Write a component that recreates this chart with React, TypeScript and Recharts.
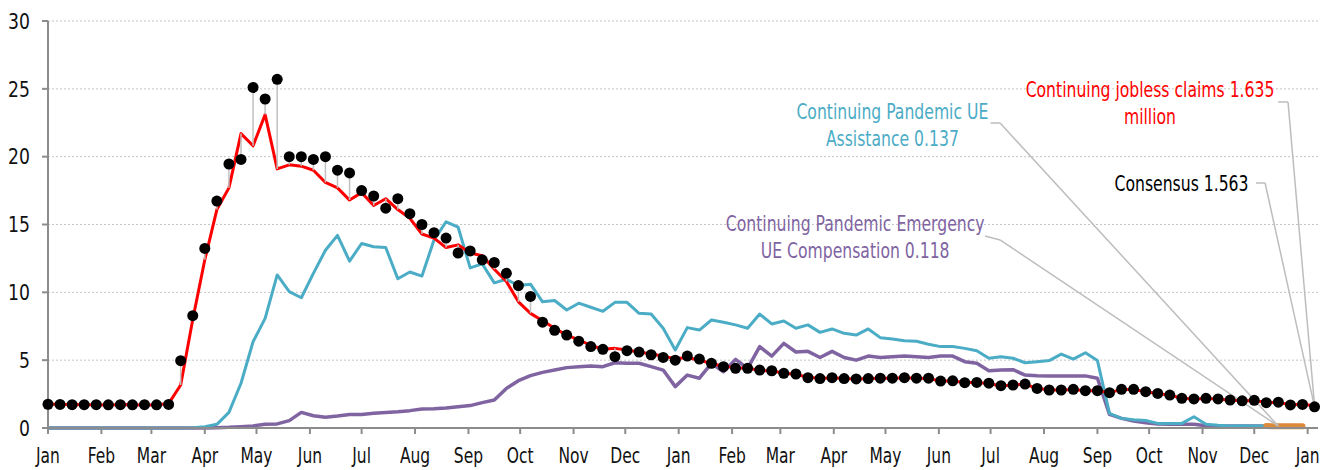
import React from "react";
import {
  ComposedChart,
  Line,
  CartesianGrid,
  XAxis,
  YAxis,
  ErrorBar,
  ReferenceLine,
  ReferenceDot,
} from "recharts";

// weekly values, millions; week 0 = first week of Jan 2020
const claims = [
  1.76, 1.74, 1.73, 1.72, 1.72, 1.7, 1.73, 1.72, 1.7, 1.7,
  1.8, 3.17, 8.0, 12.4, 16.1, 17.7, 21.7, 20.8, 23.1, 19.1,
  19.4, 19.3, 19.0, 18.1, 17.7, 16.8, 17.35, 16.4, 16.9, 16.1,
  15.45, 14.3, 14.0, 13.3, 13.5, 12.9, 12.7, 11.7, 10.8, 9.3,
  8.45, 7.9, 7.35, 6.85, 6.5, 6.1, 5.8, 5.87, 5.75, 5.6,
  5.45, 5.3, 5.1, 5.2, 5.0, 4.75, 4.55, 4.45, 4.4, 4.25,
  4.2, 4.05, 3.95, 3.75, 3.65, 3.7, 3.65, 3.62, 3.65, 3.66,
  3.67, 3.7, 3.67, 3.65, 3.47, 3.46, 3.35, 3.35, 3.28, 3.1,
  3.17, 3.22, 2.93, 2.8, 2.8, 2.83, 2.75, 2.74, 2.62, 2.83,
  2.84, 2.67, 2.55, 2.42, 2.2, 2.13, 2.18, 2.13, 2.05, 2.0,
  2.03, 1.88, 1.88, 1.72, 1.75, 1.635,
];

const consensus = [
  1.75, 1.74, 1.72, 1.72, 1.72, 1.71, 1.72, 1.71, 1.72, 1.71,
  1.74, 4.96, 8.28, 13.24, 16.73, 19.46, 19.8, 25.1, 24.25, 25.7,
  20.0, 20.0, 19.8, 20.0, 19.0, 18.8, 17.5, 17.1, 16.2, 16.9,
  15.8, 15.0, 14.4, 14.0, 12.9, 13.05, 12.4, 12.2, 11.4, 10.5,
  9.7, 7.8, 7.2, 6.85, 6.4, 6.0, 5.8, 5.26, 5.7, 5.6,
  5.4, 5.2, 5.0, 5.3, 5.08, 4.77, 4.52, 4.4, 4.4, 4.27,
  4.22, 4.03, 3.98, 3.71, 3.64, 3.71, 3.64, 3.62, 3.64, 3.67,
  3.67, 3.71, 3.67, 3.67, 3.46, 3.48, 3.34, 3.36, 3.3, 3.12,
  3.17, 3.24, 2.92, 2.8, 2.8, 2.85, 2.75, 2.75, 2.6, 2.85,
  2.85, 2.68, 2.55, 2.43, 2.19, 2.14, 2.19, 2.14, 2.06, 2.0,
  2.04, 1.87, 1.9, 1.7, 1.74, 1.563,
];

const pua = [
  0, 0, 0, 0, 0, 0, 0, 0, 0, 0,
  0, 0, 0.02, 0.1, 0.27, 1.15, 3.3, 6.36, 8.08, 11.28,
  10.05, 9.6, 11.4, 13.1, 14.2, 12.3, 13.6, 13.36, 13.3, 11.0,
  11.5, 11.2, 13.85, 15.2, 14.8, 11.8, 12.1, 10.7, 10.96, 10.5,
  10.6, 9.3, 9.4, 8.7, 9.2, 8.9, 8.6, 9.26, 9.26, 8.45,
  8.4, 7.35, 5.75, 7.4, 7.22, 7.96, 7.8, 7.6, 7.35, 8.4,
  7.67, 7.89, 7.35, 7.6, 7.05, 7.3, 6.98, 6.85, 7.3, 6.66,
  6.56, 6.43, 6.4, 6.17, 6.0, 6.0, 5.87, 5.7, 5.14, 5.26,
  5.14, 4.81, 4.89, 4.97, 5.45, 5.08, 5.55, 4.97, 1.08, 0.71,
  0.6, 0.55, 0.34, 0.34, 0.34, 0.83, 0.27, 0.2, 0.15, 0.17,
  0.15, 0.14,
];

const peuc = [
  0, 0, 0, 0, 0, 0, 0, 0, 0, 0,
  0, 0, 0, 0, 0.02, 0.05, 0.1, 0.15, 0.28, 0.3,
  0.54, 1.15, 0.9, 0.79, 0.88, 1.0, 1.0, 1.08, 1.15, 1.2,
  1.28, 1.4, 1.42, 1.47, 1.57, 1.65, 1.87, 2.06, 2.92, 3.49,
  3.86, 4.1, 4.27, 4.45, 4.52, 4.57, 4.52, 4.81, 4.77, 4.77,
  4.52, 4.27, 3.05, 3.9, 3.67, 4.77, 4.15, 5.06, 4.4, 6.0,
  5.3, 6.24, 5.6, 5.65, 5.2, 5.65, 5.2, 5.0, 5.3, 5.2,
  5.25, 5.3, 5.25, 5.2, 5.3, 5.3, 4.89, 4.77, 4.22, 4.27,
  4.3, 3.9, 3.86, 3.84, 3.84, 3.84, 3.84, 3.67, 1.0, 0.71,
  0.52, 0.39, 0.29, 0.27, 0.27, 0.27, 0.17, 0.15, 0.15, 0.15,
  0.15, 0.14,
];

// latest weeks shown in orange
const latestStart = 101;
const latest = [0.14, 0.13, 0.13, 0.12];

// days since Jan 1 2020 for each month start
const monthTicks = [
  0, 31, 60, 91, 121, 152, 182, 213, 244, 274, 305, 335,
  366, 397, 425, 456, 486, 517, 547, 578, 609, 639, 670, 700, 731,
];
const monthLabels = [
  "Jan", "Feb", "Mar", "Apr", "May", "Jun", "Jul", "Aug", "Sep", "Oct", "Nov", "Dec",
  "Jan", "Feb", "Mar", "Apr", "May", "Jun", "Jul", "Aug", "Sep", "Oct", "Nov", "Dec", "Jan",
];
const yTicks = [0, 5, 10, 15, 20, 25, 30];

// callouts: text centre, leader path (days, millions)
const callouts = [
  {
    lines: ["Continuing Pandemic UE", "Assistance 0.137"],
    color: "#4bacc6",
    at: { x: 490, y: 22.4 },
    leader: [{ x: 547, y: 22.48 }, { x: 552.5, y: 22.48 }, { x: 714, y: 0.14 }],
  },
  {
    lines: ["Continuing Pandemic Emergency", "UE Compensation 0.118"],
    color: "#8064a2",
    at: { x: 468.4, y: 14.08 },
    leader: [{ x: 543.8, y: 14.15 }, { x: 552.5, y: 13.86 }, { x: 714, y: 0.14 }],
  },
  {
    lines: ["Continuing jobless claims 1.635", "million"],
    color: "#ff0000",
    at: { x: 639.5, y: 24.0 },
    leader: [{ x: 713.8, y: 24.03 }, { x: 719.6, y: 24.03 }, { x: 735, y: 1.635 }],
  },
  {
    lines: ["Consensus 1.563"],
    color: "#000000",
    at: { x: 657.8, y: 18.06 },
    leader: [{ x: 701, y: 18.06 }, { x: 706.3, y: 18.06 }, { x: 735, y: 1.563 }],
  },
];

const FONT = "'DejaVu Sans Condensed', 'DejaVu Sans', sans-serif";

const data = claims.map((c, i) => {
  const k = consensus[i];
  const lo = Math.min(c, k);
  const hi = Math.max(c, k);
  return {
    day: i * 7,
    claims: c,
    consensus: k,
    gap: [k - lo, hi - k],
    pua: i < pua.length ? pua[i] : null,
    peuc: i < peuc.length ? peuc[i] : null,
    latest: i >= latestStart && i < latestStart + latest.length ? latest[i - latestStart] : null,
  };
});

// condensed look: squeeze the text horizontally
function NarrowText({ x, y, anchor, size, sx, color, children }) {
  return (
    <text
      transform={`translate(${x},${y}) scale(${sx},1)`}
      x={0}
      y={0}
      textAnchor={anchor}
      fontSize={size}
      fontFamily={FONT}
      fill={color}
    >
      {children}
    </text>
  );
}

function XTick({ x, y, index }) {
  return (
    <NarrowText x={x} y={y + 15} anchor="middle" size={20.5} sx={0.84} color="#111">
      {monthLabels[index]}
    </NarrowText>
  );
}

function YTick({ x, y, payload }) {
  return (
    <NarrowText x={x} y={y + 7.8} anchor="end" size={21.5} sx={0.89} color="#111">
      {payload.value}
    </NarrowText>
  );
}

function CalloutText({ viewBox, lines, color }) {
  const cx = viewBox.x + viewBox.width / 2;
  const cy = viewBox.y + viewBox.height / 2;
  return (
    <g>
      {lines.map((t, i) => (
        <NarrowText
          key={i}
          x={cx}
          y={cy + (i - (lines.length - 1) / 2) * 27 + 8}
          anchor="middle"
          size={22}
          sx={0.79}
          color={color}
        >
          {t}
        </NarrowText>
      ))}
    </g>
  );
}

export default function App() {
  return (
    <div style={{ position: "absolute", left: 0, top: 0, background: "#fff" }}>
      <ComposedChart
        width={1344}
        height={470}
        data={data}
        margin={{ top: 21, right: 26, bottom: 0, left: 0 }}
      >
        <CartesianGrid vertical={false} stroke="#c4c4c4" strokeDasharray="2 2" />
        <XAxis
          dataKey="day"
          type="number"
          domain={[0, 737]}
          ticks={monthTicks}
          height={42}
          interval={0}
          axisLine={{ stroke: "#8c8c8c", strokeWidth: 2 }}
          tickLine={{ stroke: "#8c8c8c", strokeWidth: 2 }}
          tickSize={6}
          tickMargin={14}
          tick={<XTick />}
        />
        <YAxis
          type="number"
          domain={[0, 30]}
          ticks={yTicks}
          width={48}
          interval={0}
          axisLine={{ stroke: "#8c8c8c", strokeWidth: 2 }}
          tickLine={{ stroke: "#8c8c8c", strokeWidth: 2 }}
          tickSize={6}
          tickMargin={12}
          tick={<YTick />}
        />
        <Line dataKey="peuc" stroke="#8064a2" strokeWidth={3.5} strokeLinejoin="round" dot={false} isAnimationActive={false} />
        <Line dataKey="pua" stroke="#4bacc6" strokeWidth={3} strokeLinejoin="round" dot={false} isAnimationActive={false} />
        <Line dataKey="latest" stroke="#de8a3c" strokeWidth={6} strokeLinecap="round" dot={false} isAnimationActive={false} />
        <Line dataKey="claims" stroke="#ff0000" strokeWidth={3} strokeLinejoin="round" dot={false} isAnimationActive={false} />
        <Line
          dataKey="consensus"
          stroke="none"
          dot={{ r: 5.5, fill: "#000", stroke: "none" }}
          isAnimationActive={false}
        >
          <ErrorBar dataKey="gap" direction="y" width={0} stroke="#c0c0c0" strokeWidth={1.5} />
        </Line>
        {callouts.map((c, i) =>
          c.leader.slice(1).map((p, j) => (
            <ReferenceLine
              key={`l${i}-${j}`}
              segment={[c.leader[j], p]}
              stroke="#bdbdbd"
              strokeWidth={1.5}
              ifOverflow="visible"
            />
          ))
        )}
        {callouts.map((c, i) => (
          <ReferenceDot
            key={`t${i}`}
            x={c.at.x}
            y={c.at.y}
            r={1}
            fill="none"
            stroke="none"
            ifOverflow="visible"
            label={(props) => <CalloutText viewBox={props.viewBox} lines={c.lines} color={c.color} />}
          />
        ))}
      </ComposedChart>
    </div>
  );
}
